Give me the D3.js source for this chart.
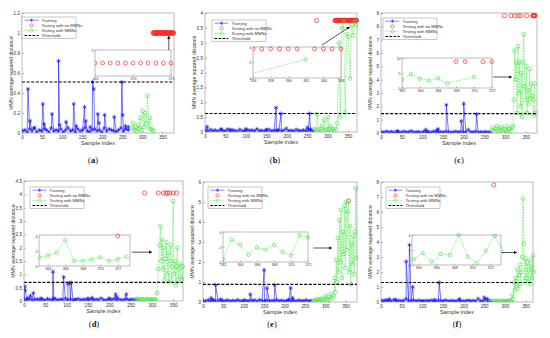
<!DOCTYPE html>
<html lang="en">
<head>
<meta charset="utf-8">
<title>MMN average squared distance</title>
<script src="https://cdn.jsdelivr.net/npm/d3@7"></script>
<style>
  body { margin: 0; background: #fff; }
  svg { display: block; font-family: Arial, "Liberation Sans", sans-serif; }
</style>
</head>
<body>
<script>
// ---- data ----
const legendLabels = ['Training', 'Testing with no MMNs', 'Testing with MMNs', 'Threshold'];
const xTicks = [0, 50, 100, 150, 200, 250, 300, 350];
const trainStep = 6;   // baseline samples drawn every 6th index
const testStep = 3;

// (a)
const aTrainBase = [.02,.03,.01,.04,.02,.05,.01,.03,.02,.04,.03,.01,.05,.02,.03,.02,.04,.01,.03,.05,.02,.03,.01,.04,.02,.03,.05,.02,.01,.03,.04,.02,.03,.01,.05,.02,.04,.03,.02,.01,.03,.05,.02,.04,.03];
const aTrainPeaks = [[15,.44],[20,.12],[30,.05],[52,.29],[55,.09],[75,.19],[91,.72],[94,.08],[110,.11],[129,.29],[135,.07],[156,.26],[159,.12],[170,.06],[176,.51],[179,.44],[189,.19],[192,.10],[206,.18],[230,.16],[249,.51],[251,.18],[258,.07],[265,.06]];
const aTestSmall = [.05,.1,.03,.06,.02,.08,.04,.15,.03,.22,.06,.2,.1,.37,.05,.15,.04,.03,.02];
const aTestBig = [];
const aRed = [327,328,329,330,331,332,333,334,335,336,337,338,339,340,341,342,343,344,345,346,347,348,349,350,351,352,353,354,355,356,357,358,359,360,361,362,363,364,365,366,367,368,369,370,371,372,373,374,375,376,377,378];
const aRedLevel = 1.0;
const aThreshold = 0.51;
const aInsetRed = [365,366,367,368,369,370,371,372,373,374,375];
const aInsetGreen = [];
const aArrow = [[366, 0.83], [366, 0.97]];

// (b)
const bTrainBase = [.05,.03,.08,.04,.06,.02,.07,.05,.03,.09,.04,.06,.05,.02,.08,.04,.03,.07,.05,.06,.03,.1,.04,.05,.02,.06,.08,.03,.05,.04,.07,.02,.06,.12,.04,.05,.03,.08,.05,.04,.06,.03,.07,.05,.04];
const bTrainPeaks = [[5,.18],[40,.1],[62,.08],[100,.1],[150,.08],[174,.82],[177,.05],[186,.62],[250,.15],[256,.62],[258,.1]];
const bTestSmall = [.1,.05,.6,.08,.03,.1,.2,.05,.4,.06,.1,.5,.08,.2,.05,.1,.04];
const bTestBig = [[320,.1],[324,.3],[328,3.0],[331,.5],[335,3.5],[339,3.7],[343,.65],[347,3.3],[351,3.2],[355,1.8],[359,3.6],[363,3.25],[367,3.7],[370,3.6]];
const bRed = [273,318,319,320,321,322,323,324,325,326,327,328,329,330,331,332,333,334,335,336,337,338,339,340,341,342,343,344,345,346,347,348,349,350,351,352,353,354,355,356,357,358,359,360,361,362,363,364,365,366,367,368,369,370,371];
const bRedLevel = 3.75;
const bThreshold = 0.62;
const bInsetRed = [356,357,358,359,360,361,363,364,365,366];
const bInsetGreen = [[354,0],[362,2.4]];
const bArrow = [[286, 2.92], [354, 3.53]];

// (c)
const cTrainBase = [.08,.05,.12,.06,.1,.04,.09,.07,.05,.11,.06,.08,.15,.05,.07,.09,.04,.1,.06,.08,.05,.12,.07,.06,.09,.04,.1,.08,.05,.07,.11,.06,.09,.05,.08,.25,.06,.07,.1,.05,.08,.06,.09,.07,.05];
const cTrainPeaks = [[40,.15],[108,.25],[112,.1],[135,.2],[138,.3],[158,2.1],[194,.9],[200,2.2],[231,1.4]];
const cTestSmall = [.2,.4,.1,.3,.5,.15,.35,.2,.45,.1,.3,.25,.5,.15,.3,.2,.4];
const cTestBig = [[319,.5],[321,2.5],[323,6.2],[325,4],[327,5.3],[329,1.5],[331,6.5],[333,3],[335,5.3],[337,2],[339,4.5],[341,1.2],[343,5.3],[345,7.4],[347,3.5],[349,2.5],[351,5],[353,1.5],[355,3.2],[357,2.2],[359,4.8],[361,2.6],[363,3.7],[365,2.8],[367,2.5],[369,1.3],[371,3.7],[373,1.5]];
const cRed = [298,314,324,332,338,352,367,368,369,370,371,372];
const cRedLevel = 8.8;
const cThreshold = 1.45;
const cInsetRed = [368,369,371,372];
const cInsetGreen = [[362,2.6],[363,4.6],[364,3.1],[365,2.5],[366,3.2],[367,1.5],[370,3.7]];
const cArrow = [[271, 4.2], [316, 4.2]];

// (d)
const dTrainBase = [.06,.04,.08,.03,.05,.07,.04,.06,.03,.08,.05,.04,.07,.03,.06,.05,.09,.04,.06,.03,.05,.08,.04,.06,.05,.03,.07,.04,.06,.05,.1,.04,.03,.06,.05,.08,.04,.06,.03,.05,.07,.04,.06,.05,.03];
const dTrainPeaks = [[2,.55],[3,.4],[8,.1],[15,.2],[22,.3],[40,.1],[68,1.1],[70,.1],[93,.9],[103,.65],[107,.68],[111,.68],[120,.05],[150,.1],[160,.12],[200,.1],[215,.25],[218,.15],[240,.25]];
const dTestSmall = [.05,.08,.03,.06,.04,.07,.05,.03,.08,.04,.06,.05,.07,.03,.06,.05,.04];
const dTestBig = [[312,.3],[315,1.2],[318,2.1],[320,2.8],[322,1.5],[324,2.3],[326,1.2],[328,2.0],[330,.8],[332,1.6],[334,2.2],[336,1.0],[338,1.8],[340,.7],[342,1.5],[344,2.1],[346,.8],[348,1.3],[350,3.75],[352,1.0],[354,1.5],[356,.6],[358,1.3],[360,2.0],[362,.8],[364,1.2],[366,1.4],[368,.9],[370,.8],[372,1.3]];
const dRed = [283,315,327,333,337,342,350,358];
const dRedLevel = 4.05;
const dThreshold = 0.7;
const dInsetRed = [[372, 4.05]];
const dInsetGreen = [[363,1.17],[364,1.4],[365,1.8],[366,3.5],[367,.7],[368,.7],[369,.9],[370,1.17],[371,.7],[372,.9],[373,1.3]];
const dArrow = [[253, 1.83], [300, 1.83]];

// (e)
const eTrainBase = [.06,.04,.1,.05,.08,.03,.07,.12,.05,.06,.09,.04,.07,.05,.1,.06,.03,.08,.05,.07,.06,.09,.04,.11,.06,.05,.08,.04,.07,.06,.1,.05,.08,.04,.06,.09,.05,.07,.04,.08,.06,.05,.1,.04,.07];
const eTrainPeaks = [[20,.2],[25,.1],[31,.85],[45,.1],[100,.08],[116,.38],[150,1.6],[157,.7],[176,.85],[210,.1],[215,.7],[220,.2]];
const eTestSmall = [.05,.1,.08,.15,.06,.12,.1,.2,.08,.15,.3,.1,.25,.12,.4,.2];
const eTestBig = [[321,.3],[323,1.2],[325,.5],[327,2.1],[329,1.0],[331,3.2],[333,1.5],[335,4.1],[337,2.0],[339,4.6],[341,1.2],[343,3.5],[345,2.4],[347,4.8],[349,1.7],[351,5.0],[353,2.6],[355,4.5],[357,5.05],[359,1.5],[361,3.8],[363,.9],[365,2.9],[367,1.9],[369,3.3],[371,1.4],[373,3.5],[375,5.7],[376,2.2]];
const eRed = [357];
const eRedLevel = 5.05;
const eThreshold = 0.88;
const eInsetRed = [];
const eInsetGreen = [[362,.36],[363,2.98],[364,2.3],[365,.98],[366,1.96],[367,1.64],[368,2.3],[369,1.33],[370,.89],[371,3.56],[372,3.29]];
const eArrow = [[271, 2.7], [316, 2.7]];

// (f)
const fTrainBase = [.1,.06,.12,.08,.05,.15,.07,.1,.06,.09,.2,.05,.08,.12,.06,.1,.07,.05,.09,.06,.11,.07,.05,.1,.08,.06,.12,.05,.09,.07,.06,.1,.08,.05,.07,.11,.06,.09,.05,.22,.07,.06,.18,.05,.08];
const fTrainPeaks = [[10,.1],[20,.2],[35,.15],[61,2.7],[69,3.8],[77,1.0],[100,.05],[130,.15],[141,1.3],[190,.2],[250,.3],[258,.2]];
const fTestSmall = [.05,.08,.04,.06,.05,.1,.04,.07,.05,.06,.08,.04,.06,.05,.07,.1,.05];
const fTestBig = [[316,.1],[318,.5],[320,.2],[322,1.3],[324,.8],[326,1.6],[328,1.1],[330,2.2],[332,.9],[334,1.8],[336,2.5],[338,1.2],[340,2.0],[342,3.0],[344,6.9],[346,3.9],[348,1.4],[350,2.9],[352,1.6],[354,2.6],[356,1.3],[358,2.1],[360,2.8],[362,1.2],[364,2.4],[366,1.6],[368,3.1],[370,2.0]];
const fRed = [273];
const fRedLevel = 7.8;
const fThreshold = 1.3;
const fInsetRed = [];
const fInsetGreen = [[363.5,.76],[364.5,1.56],[365.5,.44],[366.5,1.47],[367.5,1.33],[368.5,4],[369.5,1.11],[370.5,.22],[371.5,1.91],[372.5,3.87],[373.5,1.78]];
const fArrow = [[292, 3.3], [329, 3.3]];

// ---- layout ----
const panels = [
  { tag: 'a', box: [22, 13, 174, 133], xd: [0, 379], yd: [0, 1.2], yt: [0, .2, .4, .6, .8, 1, 1.2],
    base: aTrainBase, peaks: aTrainPeaks, testStart: 274, test: aTestSmall, big: aTestBig,
    red: aRed, redY: aRedLevel, thr: aThreshold, arrow: aArrow, leg: [22, 17], cap: [93, 163],
    inset: { box: [95, 50, 171, 76], xd: [365, 375], yd: [0, 2], xt: [365, 370, 375], yt: [2],
             red: aInsetRed.map(v => [v, aRedLevel]), green: aInsetGreen } },
  { tag: 'b', box: [205, 13, 357, 132], xd: [0, 372], yd: [0, 4], yt: [0, .5, 1, 1.5, 2, 2.5, 3, 3.5, 4],
    base: bTrainBase, peaks: bTrainPeaks, testStart: 268, test: bTestSmall, big: bTestBig,
    red: bRed, redY: bRedLevel, thr: bThreshold, arrow: bArrow, leg: [212, 20], cap: [275, 163],
    inset: { box: [253, 47, 341, 78], xd: [356, 366], yd: [0, 4], xt: [356, 358, 360, 362, 364, 366], yt: [0, 2, 4],
             red: bInsetRed.map(v => [v, bRedLevel]), green: bInsetGreen } },
  { tag: 'c', box: [381, 13, 537, 133], xd: [0, 377], yd: [0, 9], yt: [0, 1, 2, 3, 4, 5, 6, 7, 8, 9],
    base: cTrainBase, peaks: cTrainPeaks, testStart: 268, test: cTestSmall, big: cTestBig,
    red: cRed, redY: cRedLevel, thr: cThreshold, arrow: cArrow, leg: [383, 18], cap: [459, 163],
    inset: { box: [402, 58, 492, 88], xd: [362, 372], yd: [0, 10], xt: [362, 364, 366, 368, 370, 372], yt: [0, 5, 10],
             red: cInsetRed.map(v => [v, cRedLevel]), green: cInsetGreen } },
  { tag: 'd', box: [24, 181, 183, 301], xd: [0, 373], yd: [0, 4.5], yt: [0, .5, 1, 1.5, 2, 2.5, 3, 3.5, 4, 4.5],
    base: dTrainBase, peaks: dTrainPeaks, testStart: 262, test: dTestSmall, big: dTestBig,
    red: dRed, redY: dRedLevel, thr: dThreshold, arrow: dArrow, leg: [30, 187], cap: [94, 327],
    inset: { box: [39, 235, 130, 266], xd: [363, 373.4], yd: [0, 4.2], xt: [364, 366, 368, 370, 372], yt: [0, 2, 4],
             red: dInsetRed, green: dInsetGreen } },
  { tag: 'e', box: [203, 182, 357, 302], xd: [0, 378], yd: [0, 6], yt: [0, 1, 2, 3, 4, 5, 6],
    base: eTrainBase, peaks: eTrainPeaks, testStart: 272, test: eTestSmall, big: eTestBig,
    red: eRed, redY: eRedLevel, thr: eThreshold, arrow: eArrow, leg: [208, 187], cap: [272, 327],
    inset: { box: [223, 232, 308, 262], xd: [362, 372], yd: [0, 4], xt: [362, 364, 366, 368, 370, 372], yt: [0, 2, 4],
             red: eInsetRed, green: eInsetGreen } },
  { tag: 'f', box: [381, 182, 533, 302], xd: [0, 368], yd: [0, 8], yt: [0, 1, 2, 3, 4, 5, 6, 7, 8],
    base: fTrainBase, peaks: fTrainPeaks, testStart: 266, test: fTestSmall, big: fTestBig,
    red: fRed, redY: fRedLevel, thr: fThreshold, arrow: fArrow, leg: [386, 187], cap: [457, 327],
    inset: { box: [412, 235, 501, 265], xd: [363.3, 373.2], yd: [0, 4], xt: [364, 366, 368, 370, 372], yt: [0, 2, 4],
             red: fInsetRed, green: fInsetGreen } }
];

const BLUE = '#1a1aff', RED = '#ff2a2a', GREEN = '#4ee84e';

const svg = d3.select('body').append('svg').attr('width', 550).attr('height', 338);
svg.append('rect').attr('width', 550).attr('height', 338).attr('fill', '#fff');
const defs = svg.append('defs');
defs.append('marker').attr('id', 'arrowhead').attr('viewBox', '0 0 10 10')
  .attr('refX', 9).attr('refY', 5).attr('markerWidth', 5).attr('markerHeight', 5)
  .attr('orient', 'auto')
  .append('path').attr('d', 'M0,0L10,5L0,10z').attr('fill', '#111');

const star = d3.symbol().type(d3.symbolAsterisk).size(13);
const legStar = d3.symbol().type(d3.symbolAsterisk).size(8);
const fmt = d => String(+d.toFixed(2));

function styleAxis(sel, fs) {
  sel.select('.domain').remove();
  sel.selectAll('line').attr('stroke', '#555').attr('stroke-width', 0.4);
  sel.selectAll('text').attr('font-size', fs).attr('fill', '#333');
}

function drawSeries(g, x, y, train, test, red, r) {
  const line = d3.line().x(d => x(d[0])).y(d => y(d[1]));
  // training
  g.append('path').datum(train).attr('d', line)
    .attr('fill', 'none').attr('stroke', BLUE).attr('stroke-width', 0.6);
  g.selectAll('.star').data(train).enter().append('path')
    .attr('d', star).attr('transform', d => `translate(${x(d[0])},${y(d[1])})`)
    .attr('fill', 'none').attr('stroke', BLUE).attr('stroke-width', 0.7);
  // testing with no MMNs
  g.selectAll('.red').data(red).enter().append('circle')
    .attr('cx', d => x(d[0])).attr('cy', d => y(d[1])).attr('r', r)
    .attr('fill', 'none').attr('stroke', RED).attr('stroke-width', 0.7);
  // testing with MMNs
  if (test.length) {
    g.append('path').datum(test).attr('d', line)
      .attr('fill', 'none').attr('stroke', GREEN).attr('stroke-width', 0.6).attr('stroke-dasharray', '1.8,1');
    g.selectAll('.grn').data(test).enter().append('circle')
      .attr('cx', d => x(d[0])).attr('cy', d => y(d[1])).attr('r', r * 0.9)
      .attr('fill', 'none').attr('stroke', GREEN).attr('stroke-width', 0.7);
  }
}

function drawPanel(p) {
  const [x0, y0, x1, y1] = p.box;
  const x = d3.scaleLinear().domain(p.xd).range([x0, x1]);
  const y = d3.scaleLinear().domain(p.yd).range([y1, y0]);
  const g = svg.append('g');

  defs.append('clipPath').attr('id', 'clip-' + p.tag)
    .append('rect').attr('x', x0).attr('y', y0 - 3).attr('width', x1 - x0 + 3).attr('height', y1 - y0 + 3);

  g.append('g').attr('transform', `translate(0,${y1})`)
    .call(d3.axisBottom(x).tickValues(xTicks).tickSize(-2).tickPadding(2.5).tickFormat(fmt))
    .call(s => styleAxis(s, 4.6));
  g.append('g').attr('transform', `translate(${x0},0)`)
    .call(d3.axisLeft(y).tickValues(p.yt).tickSize(-2).tickPadding(2).tickFormat(fmt))
    .call(s => styleAxis(s, 4.6));

  g.append('text').attr('x', (x0 + x1) / 2).attr('y', y1 + 11.5).attr('text-anchor', 'middle')
    .attr('font-size', 5.6).attr('fill', '#333').text('Sample index');
  g.append('text').attr('transform', `translate(${x0 - 9.5},${(y0 + y1) / 2}) rotate(-90)`)
    .attr('text-anchor', 'middle').attr('font-size', 5.2).attr('fill', '#333')
    .text('MMN average squared distance');

  // series
  const train = p.base.map((v, i) => [1 + i * trainStep, v]).concat(p.peaks).sort((a, b) => a[0] - b[0]);
  const test = p.test.map((v, i) => [p.testStart + i * testStep, v]).concat(p.big).sort((a, b) => a[0] - b[0]);
  const red = p.red.map(v => [v, p.redY]);
  const plot = g.append('g').attr('clip-path', `url(#clip-${p.tag})`);
  drawSeries(plot, x, y, train, test, red, 2.1);

  plot.append('line').attr('x1', x0).attr('x2', x1).attr('y1', y(p.thr)).attr('y2', y(p.thr))
    .attr('stroke', '#000').attr('stroke-width', 1.1).attr('stroke-dasharray', '3,1.6');

  g.append('rect').attr('x', x0).attr('y', y0).attr('width', x1 - x0).attr('height', y1 - y0)
    .attr('fill', 'none').attr('stroke', '#777').attr('stroke-width', 0.5);

  // inset
  const ins = p.inset;
  const [ix0, iy0, ix1, iy1] = ins.box;
  const ix = d3.scaleLinear().domain(ins.xd).range([ix0, ix1]);
  const iy = d3.scaleLinear().domain(ins.yd).range([iy1, iy0]);
  const ig = g.append('g');
  ig.append('rect').attr('x', ix0).attr('y', iy0).attr('width', ix1 - ix0).attr('height', iy1 - iy0)
    .attr('fill', '#fff');
  defs.append('clipPath').attr('id', 'iclip-' + p.tag)
    .append('rect').attr('x', ix0).attr('y', iy0 - 2.5).attr('width', ix1 - ix0 + 2.5).attr('height', iy1 - iy0 + 2.5);
  ig.append('g').attr('transform', `translate(0,${iy1})`)
    .call(d3.axisBottom(ix).tickValues(ins.xt).tickSize(-1.5).tickPadding(1.8).tickFormat(fmt))
    .call(s => styleAxis(s, 3.6));
  ig.append('g').attr('transform', `translate(${ix0},0)`)
    .call(d3.axisLeft(iy).tickValues(ins.yt).tickSize(-1.5).tickPadding(1.5).tickFormat(fmt))
    .call(s => styleAxis(s, 3.6));
  const iplot = ig.append('g').attr('clip-path', `url(#iclip-${p.tag})`);
  drawSeries(iplot, ix, iy, [], ins.green, ins.red, 1.9);
  ig.append('rect').attr('x', ix0).attr('y', iy0).attr('width', ix1 - ix0).attr('height', iy1 - iy0)
    .attr('fill', 'none').attr('stroke', '#777').attr('stroke-width', 0.5);

  // arrow from inset to data
  g.append('line')
    .attr('x1', x(p.arrow[0][0])).attr('y1', y(p.arrow[0][1]))
    .attr('x2', x(p.arrow[1][0])).attr('y2', y(p.arrow[1][1]))
    .attr('stroke', '#111').attr('stroke-width', 0.7).attr('marker-end', 'url(#arrowhead)');

  // legend
  const [lx, ly] = p.leg;
  const lg = g.append('g').attr('transform', `translate(${lx},${ly})`);
  lg.append('rect').attr('width', 54).attr('height', 21.5).attr('fill', '#fff')
    .attr('stroke', '#777').attr('stroke-width', 0.4);
  legendLabels.forEach((t, i) => {
    const yy = 3.2 + i * 5.1;
    const row = lg.append('g').attr('transform', `translate(0,${yy})`);
    if (i === 0) {
      row.append('line').attr('x1', 2.5).attr('x2', 16.5).attr('stroke', BLUE).attr('stroke-width', 0.5);
      row.append('path').attr('d', legStar).attr('transform', 'translate(9.5,0)')
        .attr('fill', 'none').attr('stroke', BLUE).attr('stroke-width', 0.5);
    } else if (i === 1) {
      row.append('circle').attr('cx', 9.5).attr('r', 1.6).attr('fill', 'none').attr('stroke', RED).attr('stroke-width', 0.6);
    } else if (i === 2) {
      row.append('line').attr('x1', 2.5).attr('x2', 16.5).attr('stroke', GREEN).attr('stroke-width', 0.6).attr('stroke-dasharray', '1.8,1');
      row.append('circle').attr('cx', 9.5).attr('r', 1.6).attr('fill', 'none').attr('stroke', GREEN).attr('stroke-width', 0.6);
    } else {
      row.append('line').attr('x1', 2.5).attr('x2', 16.5).attr('stroke', '#000').attr('stroke-width', 1.1).attr('stroke-dasharray', '2.6,1.4');
    }
    row.append('text').attr('x', 19.5).attr('y', 1.5).attr('font-size', 4.2).attr('fill', '#333').text(t);
  });

  // caption
  const cap = g.append('text').attr('x', p.cap[0]).attr('y', p.cap[1]).attr('text-anchor', 'middle')
    .attr('font-family', '"Liberation Serif", "DejaVu Serif", serif').attr('font-size', 8.5).attr('fill', '#111');
  cap.append('tspan').text('(');
  cap.append('tspan').attr('font-weight', 'bold').text(p.tag);
  cap.append('tspan').text(')');
}

panels.forEach(drawPanel);
</script>
</body>
</html>
